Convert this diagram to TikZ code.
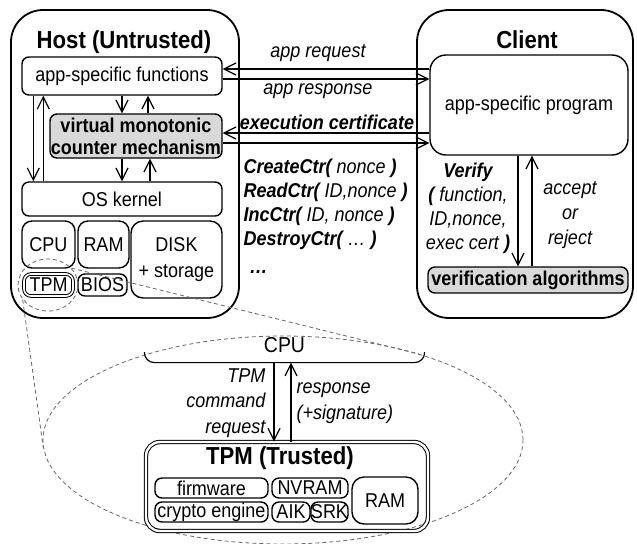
\documentclass[tikz,border=0pt]{standalone}
\usepackage{fontspec}
\setmainfont{Liberation Sans}[FakeStretch=0.9]
\usepackage{tikz}
\usetikzlibrary{arrows.meta,shapes.geometric}

\begin{document}
\begin{tikzpicture}[x=0.5pt,y=-0.5pt,line width=0.6pt,
  >={Straight Barb[length=6pt,width=6pt]},
  realm/.style={draw,line width=0.9pt,rounded corners=16pt},
  heading/.style={inner sep=0pt,font=\fontsize{12.3}{14}\selectfont\bfseries},
  part/.style={draw,line width=0.7pt,rounded corners=3.5pt,inner sep=0pt,align=center,font=\fontsize{10}{12}\selectfont},
  greypart/.style={part,fill=black!15,font=\fontsize{10}{11}\selectfont\bfseries},
  lbl/.style={inner sep=0pt,font=\fontsize{10}{12}\selectfont\itshape},
  zoomline/.style={draw=black!60,line width=0.4pt,dash pattern=on 2pt off 1.5pt}]
\useasboundingbox (0,0) rectangle (637,543);

\node[realm,minimum width=114pt,minimum height=154pt] (host) at (125,164) {};
\node[heading] (hosttitle) at (124,42) {Host (Untrusted)};
\node[part,minimum width=100pt,minimum height=19pt] (asf) at (122,76) {app-specific functions};
\node[greypart,minimum width=86pt,minimum height=22pt] (vmc) at (136,136) {virtual monotonic\\counter mechanism};
\node[part,minimum width=100pt,minimum height=17pt] (kernel) at (122,199) {OS kernel};
\node[part,rounded corners=5pt,minimum width=26.5pt,minimum height=23.5pt] (cpu) at (48.5,244.5) {CPU};
\node[part,rounded corners=5pt,minimum width=25.5pt,minimum height=23.5pt] (ram) at (103.5,244.5) {RAM};
\node[part,rounded corners=6pt,minimum width=45.5pt,minimum height=38.5pt,font=\fontsize{10}{13}\selectfont] (disk) at (176.5,259.5) {DISK\\+ storage};
\node[part,double,line width=0.5pt,double distance=0.8pt,minimum width=24.5pt,minimum height=11pt] (tpm) at (48.5,285) {TPM};
\node[part,minimum width=24.5pt,minimum height=11pt] (bios) at (102.5,285) {BIOS};

\node[realm,minimum width=108pt,minimum height=154pt] (client) at (525,164) {};
\node[heading] (clienttitle) at (527,40) {Client};
\node[part,rounded corners=8pt,minimum width=99pt,minimum height=50pt] (prog) at (529,105) {app-specific program};
\node[greypart,minimum width=100pt,minimum height=13pt] (verif) at (528,280) {verification algorithms};

\draw[->,transform canvas={yshift=3.5pt}] (prog.west |- asf.east) -- (asf.east);
\draw[->,transform canvas={yshift=-1.5pt}] (asf.east) -- (prog.west |- asf.east);
\draw[->,transform canvas={yshift=1.5pt}] (prog.west |- vmc.east) -- (vmc.east);
\draw[->,transform canvas={yshift=-3.5pt}] (vmc.east) -- (prog.west |- vmc.east);
\node[lbl] (reqlbl) at (318,53) {app request};
\node[lbl] (resplbl) at (318,91) {app response};
\node[lbl,font=\fontsize{10}{12}\selectfont\bfseries\itshape] (certlbl) at (327,122) {execution certificate};
\node[lbl,align=left,anchor=west] (cmds) at (243,204) {\textbf{CreateCtr(} nonce \textbf{)}\\\textbf{ReadCtr(} ID,nonce \textbf{)}\\\textbf{IncCtr(} ID, nonce \textbf{)}\\\textbf{DestroyCtr(} \dots{} \textbf{)}};
\node[lbl,anchor=west] (more) at (249,272) {\textbf{…}};

\draw[->] (asf.south) -- (asf.south |- vmc.north);
\draw[->,transform canvas={xshift=13pt}] (asf.south |- vmc.north) -- (asf.south);
\draw[->] (kernel.north |- vmc.south) -- (kernel.north);
\draw[->,transform canvas={xshift=14pt}] (kernel.north) -- (kernel.north |- vmc.south);
\draw[->,transform canvas={xshift=6pt}] (asf.south west) -- (kernel.north west);
\draw[->,transform canvas={xshift=11pt}] (kernel.north west) -- (asf.south west);

\draw[->,transform canvas={xshift=-5.5pt}] (prog.south) -- (prog.south |- verif.north);
\draw[->,transform canvas={xshift=1.5pt}] (prog.south |- verif.north) -- (prog.south);
\node[lbl,align=center] (verify) at (468,208) {\textbf{Verify}\\\textbf{(} function,\\ID,nonce,\\exec cert \textbf{)}};
\node[lbl,align=center,font=\fontsize{10}{12.5}\selectfont\itshape] (answer) at (570,215) {accept\\or\\reject};

\node[zoomline,ellipse,minimum width=30pt,minimum height=26pt,inner sep=0pt] (tpmring) at (48,285) {};
\node[zoomline,ellipse,minimum width=240pt,minimum height=104pt,inner sep=0pt] (zoomarea) at (283,440) {};
\draw[zoomline] (tpmring.36) -- (zoomarea.32);
\draw[zoomline] (tpmring.210) -- (zoomarea.182);

\node[minimum width=139.5pt,minimum height=17pt,inner sep=0pt,font=\fontsize{10.8}{12}\selectfont] (cpu2) at (284.5,345) {CPU};
\draw[rounded corners=5pt] ([yshift=-3.5pt]cpu2.west) |- (cpu2.south) -| ([yshift=-3.5pt]cpu2.east);

\node[part,double,line width=0.5pt,double distance=1.2pt,rounded corners=7pt,minimum width=141pt,minimum height=44.5pt] (tpmchip) at (287,486.5) {};
\node[heading] (tpmtitle) at (280,458) {TPM (Trusted)};
\node[part,minimum width=56.5pt,minimum height=10pt] (fw) at (211.5,488) {firmware};
\node[part,minimum width=56.5pt,minimum height=10pt] (crypto) at (211.5,512) {crypto engine};
\node[part,minimum width=38pt,minimum height=10pt] (nvram) at (310,488) {NVRAM};
\node[part,minimum width=19pt,minimum height=10pt] (aik) at (291,512) {AIK};
\node[part,minimum width=18.5pt,minimum height=10pt] (srk) at (329.5,512) {SRK};
\node[part,rounded corners=6pt,minimum width=33pt,minimum height=23.5pt] (ram2) at (385,500.5) {RAM};

\draw[->,transform canvas={xshift=-5.25pt}] (cpu2.south) -- (cpu2.south |- tpmchip.north);
\draw[->,transform canvas={xshift=3.25pt}] (cpu2.south |- tpmchip.north) -- (cpu2.south);
\node[lbl,align=right,anchor=east,font=\fontsize{10}{12.75}\selectfont\itshape] (cmdlbl) at (266,403) {TPM\\command\\request};
\node[lbl,align=left,anchor=west,font=\fontsize{10}{13}\selectfont\itshape] (answerlbl) at (296,403.5) {response\\(+signature)};
\end{tikzpicture}
\end{document}
